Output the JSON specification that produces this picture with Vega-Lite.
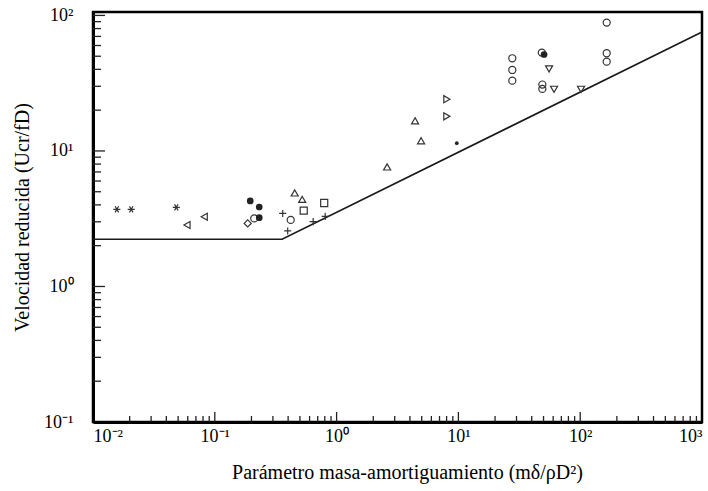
{
  "$schema": "https://vega.github.io/schema/vega-lite/v6.json",
  "width": 609,
  "height": 410,
  "autosize": {"type": "none"},
  "padding": {"left": 93, "top": 12, "right": 6, "bottom": 69},
  "background": "white",
  "config": {
    "view": {"stroke": "black", "strokeWidth": 2.5},
    "axis": {
      "domainColor": "black",
      "domainWidth": 3,
      "ticks": false,
      "labelFont": "Liberation Serif",
      "labelFontSize": 18,
      "labelColor": "black",
      "titleFont": "Liberation Serif",
      "titleFontSize": 20,
      "titleFontWeight": "normal",
      "titleColor": "black",
      "grid": false,
      "labelOverlap": false,
      "labelBound": false
    }
  },
  "datasets": {
    "curve": [
      {"x": 0.01, "y": 2.23},
      {"x": 0.357, "y": 2.23},
      {"x": 1000, "y": 75.5}
    ],
    "tickvals": [
      {"v": 0.02, "k": "minor"}, {"v": 0.03, "k": "minor"}, {"v": 0.04, "k": "minor"}, {"v": 0.05, "k": "minor"}, {"v": 0.06, "k": "minor"}, {"v": 0.07, "k": "minor"}, {"v": 0.08, "k": "minor"}, {"v": 0.09, "k": "minor"},
      {"v": 0.1, "k": "major"},
      {"v": 0.2, "k": "minor"}, {"v": 0.3, "k": "minor"}, {"v": 0.4, "k": "minor"}, {"v": 0.5, "k": "minor"}, {"v": 0.6, "k": "minor"}, {"v": 0.7, "k": "minor"}, {"v": 0.8, "k": "minor"}, {"v": 0.9, "k": "minor"},
      {"v": 1, "k": "major"},
      {"v": 2, "k": "minor"}, {"v": 3, "k": "minor"}, {"v": 4, "k": "minor"}, {"v": 5, "k": "minor"}, {"v": 6, "k": "minor"}, {"v": 7, "k": "minor"}, {"v": 8, "k": "minor"}, {"v": 9, "k": "minor"},
      {"v": 10, "k": "major"},
      {"v": 20, "k": "minor"}, {"v": 30, "k": "minor"}, {"v": 40, "k": "minor"}, {"v": 50, "k": "minor"}, {"v": 60, "k": "minor"}, {"v": 70, "k": "minor"}, {"v": 80, "k": "minor"}, {"v": 90, "k": "minor"},
      {"v": 100, "k": "major"},
      {"v": 200, "k": "minor"}, {"v": 300, "k": "minor"}, {"v": 400, "k": "minor"}, {"v": 500, "k": "minor"}, {"v": 600, "k": "minor"}, {"v": 700, "k": "minor"}, {"v": 800, "k": "minor"}, {"v": 900, "k": "minor"}
    ],
    "pts": [
      {"series": "asterisk", "x": 0.0157, "y": 3.71},
      {"series": "asterisk", "x": 0.0206, "y": 3.71},
      {"series": "asterisk", "x": 0.0483, "y": 3.84},
      {"series": "triLeft", "x": 0.0591, "y": 2.84},
      {"series": "triLeft", "x": 0.0819, "y": 3.27},
      {"series": "filled", "x": 0.1954, "y": 4.28},
      {"series": "filled", "x": 0.2316, "y": 3.86},
      {"series": "filled", "x": 0.2316, "y": 3.22},
      {"series": "diamond", "x": 0.1863, "y": 2.92},
      {"series": "circle", "x": 0.2108, "y": 3.18},
      {"series": "plus", "x": 0.361, "y": 3.46},
      {"series": "plus", "x": 0.3967, "y": 2.57},
      {"series": "plus", "x": 0.642, "y": 3.01},
      {"series": "plus", "x": 0.806, "y": 3.29},
      {"series": "circle", "x": 0.42, "y": 3.10},
      {"series": "square", "x": 0.537, "y": 3.63},
      {"series": "square", "x": 0.791, "y": 4.13},
      {"series": "triUp", "x": 0.453, "y": 4.90},
      {"series": "triUp", "x": 0.522, "y": 4.39},
      {"series": "triUp", "x": 2.60, "y": 7.62},
      {"series": "triUp", "x": 4.41, "y": 16.7},
      {"series": "triUp", "x": 4.94, "y": 11.9},
      {"series": "triRight", "x": 8.04, "y": 24.1},
      {"series": "triRight", "x": 8.04, "y": 18.0},
      {"series": "dot", "x": 9.7, "y": 11.4},
      {"series": "circle", "x": 27.7, "y": 48.3},
      {"series": "circle", "x": 27.7, "y": 39.6},
      {"series": "circle", "x": 27.7, "y": 33.0},
      {"series": "circle", "x": 48.4, "y": 53.2},
      {"series": "filled", "x": 50.5, "y": 51.5},
      {"series": "circle", "x": 48.9, "y": 30.9},
      {"series": "circle", "x": 48.9, "y": 28.7},
      {"series": "circle", "x": 165, "y": 88.5},
      {"series": "circle", "x": 165, "y": 52.6},
      {"series": "circle", "x": 165, "y": 45.6},
      {"series": "triDown", "x": 55.5, "y": 40.3},
      {"series": "triDown", "x": 61.0, "y": 28.5},
      {"series": "triDown", "x": 101.6, "y": 28.5}
    ]
  },
  "layer": [
    {
      "data": {"name": "curve"},
      "mark": {"type": "line", "color": "#1a1a1a", "strokeWidth": 1.6},
      "encoding": {
        "x": {
          "field": "x",
          "type": "quantitative",
          "scale": {"type": "log", "domain": [0.01, 1000], "nice": false},
          "axis": {
            "orient": "bottom",
            "title": "Parámetro masa-amortiguamiento (mδ/ρD²)",
            "titlePadding": 17,
            "titleX": 314,
            "values": [0.01, 0.1, 1, 10, 100, 1000],
            "labelExpr": "'10' + (datum.value < 0.99 ? '⁻' : '') + ['⁰','¹','²','³'][abs(round(log(datum.value)/LN10))]",
            "labelFlush": true,
            "labelPadding": 5
          }
        },
        "y": {
          "field": "y",
          "type": "quantitative",
          "scale": {"type": "log", "domain": [0.1, 106], "nice": false},
          "axis": {
            "orient": "left",
            "title": "Velocidad reducida (Ucr/fD)",
            "titlePadding": 11,
            "values": [0.1, 1, 10, 100],
            "labelExpr": "'10' + (datum.value < 0.99 ? '⁻' : '') + ['⁰','¹','²','³'][abs(round(log(datum.value)/LN10))]",
            "labelPadding": 20
          }
        }
      }
    },
    {
      "data": {"name": "tickvals"},
      "transform": [{"filter": "datum.k == 'minor'"}],
      "mark": {"type": "rule", "color": "#222", "strokeWidth": 1.3},
      "encoding": {
        "x": {"field": "v", "type": "quantitative"},
        "y": {"datum": 0.1, "type": "quantitative"},
        "y2": {"datum": 0.1107}
      }
    },
    {
      "data": {"name": "tickvals"},
      "transform": [{"filter": "datum.k == 'major'"}],
      "mark": {"type": "rule", "color": "#222", "strokeWidth": 1.3},
      "encoding": {
        "x": {"field": "v", "type": "quantitative"},
        "y": {"datum": 0.1, "type": "quantitative"},
        "y2": {"datum": 0.1185}
      }
    },
    {
      "data": {"name": "tickvals"},
      "transform": [{"filter": "datum.k == 'minor' && datum.v > 0.15 && datum.v < 100"}],
      "mark": {"type": "rule", "color": "#222", "strokeWidth": 1.3},
      "encoding": {
        "y": {"field": "v", "type": "quantitative"},
        "x": {"datum": 0.01, "type": "quantitative"},
        "x2": {"datum": 0.01163}
      }
    },
    {
      "data": {"name": "tickvals"},
      "transform": [{"filter": "datum.k == 'major' && datum.v > 0.15 && datum.v <= 100"}],
      "mark": {"type": "rule", "color": "#222", "strokeWidth": 1.3},
      "encoding": {
        "y": {"field": "v", "type": "quantitative"},
        "x": {"datum": 0.01, "type": "quantitative"},
        "x2": {"datum": 0.01254}
      }
    },
    {
      "data": {"name": "pts"},
      "transform": [{"filter": "datum.series != 'filled' && datum.series != 'dot'"}],
      "mark": {"type": "point", "filled": false, "strokeWidth": 1.2, "color": "#333", "opacity": 1},
      "encoding": {
        "x": {"field": "x", "type": "quantitative"},
        "y": {"field": "y", "type": "quantitative"},
        "shape": {
          "field": "series",
          "type": "nominal",
          "legend": null,
          "scale": {
            "domain": ["asterisk", "triLeft", "diamond", "circle", "plus", "square", "triUp", "triRight", "triDown"],
            "range": [
              "M-1,0L1,0M-0.5,-0.87L0.5,0.87M-0.5,0.87L0.5,-0.87",
              "triangle-left",
              "diamond",
              "circle",
              "M-1,0L1,0M0,-1L0,1",
              "square",
              "triangle-up",
              "triangle-right",
              "triangle-down"
            ]
          }
        },
        "size": {"value": 50}
      }
    },
    {
      "data": {"name": "pts"},
      "transform": [{"filter": "datum.series == 'filled' || datum.series == 'dot'"}],
      "mark": {"type": "point", "filled": true, "shape": "circle", "color": "#222", "opacity": 1},
      "encoding": {
        "x": {"field": "x", "type": "quantitative"},
        "y": {"field": "y", "type": "quantitative"},
        "size": {"condition": {"test": "datum.series == 'dot'", "value": 14}, "value": 45}
      }
    }
  ]
}
